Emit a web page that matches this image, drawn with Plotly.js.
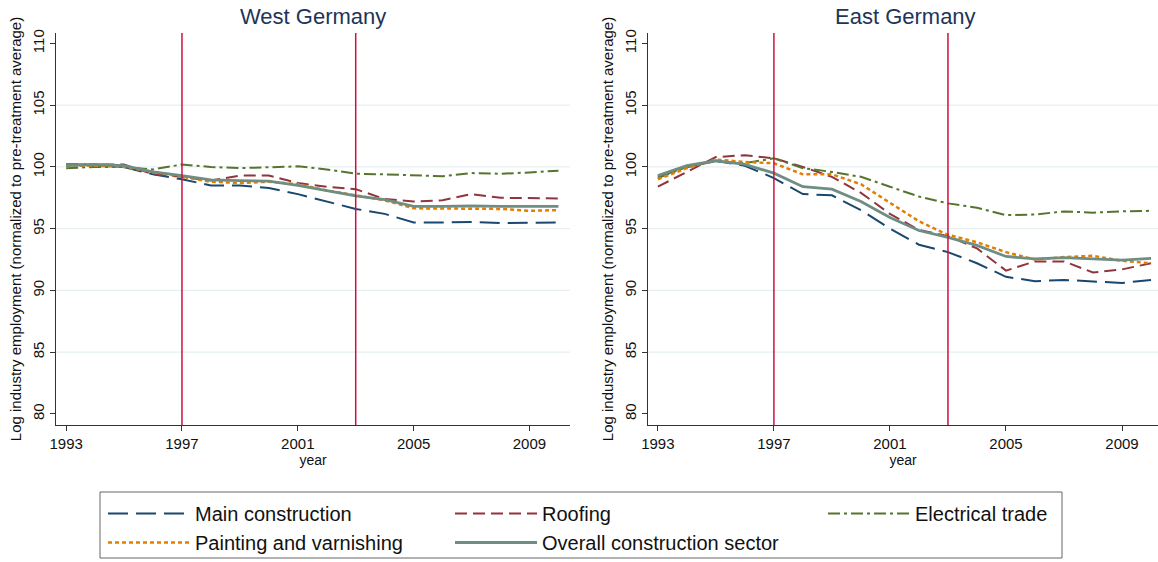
<!DOCTYPE html>
<html>
<head>
<meta charset="utf-8">
<script src="https://cdn.plot.ly/plotly-3.0.1.min.js"></script>
<style>html,body{margin:0;padding:0;background:#fff;}#chart{width:1158px;height:562px;}</style>
</head>
<body>
<div id="chart"></div>
<script>
const years = [1993,1994,1995,1996,1997,1998,1999,2000,2001,2002,2003,2004,2005,2006,2007,2008,2009,2010];
const seriesNames = ["Main construction","Roofing","Electrical trade","Painting and varnishing","Overall construction sector"];

const westMain     = [100.2,100.2,100.0,99.4,99.0,98.5,98.5,98.3,97.8,97.2,96.6,96.2,95.5,95.5,95.55,95.45,95.5,95.5];
const westRoofing  = [100.2,100.2,100.2,99.4,99.2,98.9,99.3,99.3,98.7,98.4,98.2,97.4,97.2,97.3,97.8,97.5,97.5,97.45];
const westElec     = [99.9,100.0,100.0,99.8,100.2,100.0,99.9,100.0,100.05,99.8,99.45,99.4,99.3,99.25,99.5,99.45,99.55,99.7];
const westPaint    = [100.1,100.1,100.0,99.6,99.2,98.8,98.7,98.8,98.6,98.1,97.7,97.3,96.65,96.65,96.65,96.6,96.45,96.5];
const westOverall  = [100.1,100.2,100.1,99.6,99.3,98.95,98.9,98.85,98.5,98.05,97.65,97.35,96.8,96.8,96.85,96.8,96.8,96.8];

const eastMain     = [99.2,100.0,100.5,100.1,99.1,97.8,97.7,96.5,95.0,93.7,93.1,92.2,91.1,90.75,90.85,90.7,90.6,90.85];
const eastRoofing  = [98.4,99.6,100.8,100.95,100.7,100.0,99.2,97.9,96.2,94.9,94.4,93.4,91.6,92.35,92.35,91.45,91.7,92.2];
const eastElec     = [99.1,100.0,100.45,100.3,100.7,99.9,99.6,99.2,98.4,97.6,97.05,96.7,96.1,96.15,96.4,96.3,96.4,96.45];
const eastPaint    = [99.0,99.9,100.6,100.4,100.3,99.4,99.4,98.6,97.1,95.6,94.5,93.9,93.1,92.5,92.7,92.8,92.4,92.2];
const eastOverall  = [99.3,100.1,100.5,100.2,99.5,98.4,98.2,97.2,95.9,94.85,94.3,93.65,92.75,92.55,92.65,92.55,92.45,92.6];

const panelTitles = ["West Germany","East Germany"];
const policyYears = [1997,2003];
const xTicks = [1993,1997,2001,2005,2009];
const yTicks = [80,85,90,95,100,105,110];
const gridVals = [85,90,95,100,105];

const styles = [
  {color:"#1a476f", dash:"20px,8px", width:2},
  {color:"#90353b", dash:"12px,6px", width:2},
  {color:"#55752f", dash:"12px,4px,3px,4px", width:2},
  {color:"#e37e00", dash:"4px,3px", width:2.5},
  {color:"#6e8e84", dash:"solid", width:2.8}
];
// legend column for each series (Stata-style 3-column legend)
const legendIds = ["legend","legend2","legend3","legend","legend2"];

const westData = [westMain, westRoofing, westElec, westPaint, westOverall];
const eastData = [eastMain, eastRoofing, eastElec, eastPaint, eastOverall];

const traces = [];
westData.forEach((vals,i)=>{
  traces.push({x:years, y:vals, type:"scatter", mode:"lines", name:seriesNames[i],
    line:Object.assign({shape:"linear"}, styles[i]), xaxis:"x", yaxis:"y", showlegend:true, legend:legendIds[i]});
});
eastData.forEach((vals,i)=>{
  traces.push({x:years, y:vals, type:"scatter", mode:"lines", name:seriesNames[i],
    line:Object.assign({shape:"linear"}, styles[i]), xaxis:"x2", yaxis:"y2", showlegend:false});
});

const FONT = "Liberation Sans, Arial, sans-serif";
const yTitle = "Log industry employment (normalized to pre-treatment average)";

function xAxis(domain, range, anchor){
  return {domain:domain, range:range, anchor:anchor, tickvals:xTicks, ticktext:xTicks.map(String),
    showgrid:false, zeroline:false, showline:true, linecolor:"#333", linewidth:1.3,
    ticks:"outside", ticklen:5, tickcolor:"#333", tickfont:{family:FONT,size:15,color:"#111"},
    title:{text:"year", font:{family:FONT,size:14,color:"#111"}, standoff:2}, automargin:false};
}
function yAxis(anchor){
  return {domain:[0.2438,0.9413], range:[79.1,110.85], anchor:anchor, tickvals:yTicks, ticktext:yTicks.map(String),
    tickangle:-90, showgrid:false, zeroline:false, showline:true, linecolor:"#333", linewidth:1.3,
    ticks:"outside", ticklen:5, tickcolor:"#333", tickfont:{family:FONT,size:15,color:"#111"},
    title:{text:yTitle, font:{family:FONT,size:15,color:"#111"}, standoff:4}, automargin:false};
}

const shapes = [];
[["x","y"],["x2","y2"]].forEach(([xa,ya])=>{
  gridVals.forEach(v=>{
    shapes.push({type:"line", xref:xa+" domain", yref:ya, x0:0, x1:1, y0:v, y1:v,
      line:{color:"#e6eff1", width:1.2}, layer:"below"});
  });
  policyYears.forEach(v=>{
    shapes.push({type:"line", xref:xa, yref:ya+" domain", x0:v, x1:v, y0:0, y1:1,
      line:{color:"#cf1041", width:1.5}, layer:"above"});
  });
});
// legend frame
shapes.push({type:"rect", xref:"paper", yref:"paper", x0:100/1158, x1:1062/1158, y0:1-558/562, y1:1-492/562,
  line:{color:"#666", width:1}, fillcolor:"rgba(0,0,0,0)", layer:"below"});

const annotations = [
  {text:panelTitles[0], xref:"x domain", yref:"paper", x:0.5, y:1-17/562, xanchor:"center", yanchor:"middle",
   showarrow:false, font:{family:FONT,size:22,color:"#1e3559"}},
  {text:panelTitles[1], xref:"x2 domain", yref:"paper", x:(905-648)/510, y:1-17/562, xanchor:"center", yanchor:"middle",
   showarrow:false, font:{family:FONT,size:22,color:"#1e3559"}}
];

function legendCol(xpx){
  return {orientation:"v", x:xpx/1158, y:1-494/562, xanchor:"left", yanchor:"top",
    borderwidth:0, bgcolor:"rgba(0,0,0,0)", font:{family:FONT,size:20,color:"#111"},
    traceorder:"normal", itemwidth:82, tracegroupgap:0};
}

const layout = {
  width:1158, height:562,
  margin:{l:0,r:0,t:0,b:0},
  paper_bgcolor:"#ffffff", plot_bgcolor:"#ffffff",
  font:{family:FONT, color:"#111"},
  xaxis:xAxis([56/1158, 570/1158],[1992.65,2010.4],"y"),
  yaxis:yAxis("x"),
  xaxis2:xAxis([648/1158, 1],[1992.66,2010.24],"y2"),
  yaxis2:yAxis("x2"),
  shapes:shapes,
  annotations:annotations,
  showlegend:true,
  legend:legendCol(103),
  legend2:legendCol(450),
  legend3:legendCol(823),
  hovermode:false
};

Plotly.newPlot("chart", traces, layout, {displayModeBar:false, staticPlot:true});
</script>
</body>
</html>
